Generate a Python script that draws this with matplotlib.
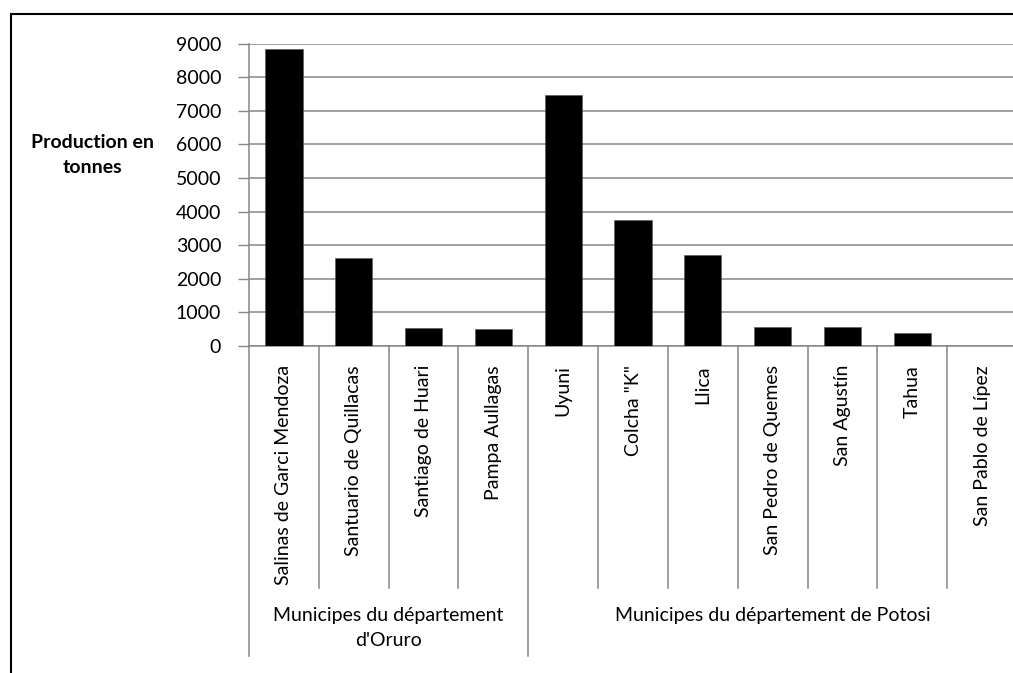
import matplotlib.pyplot as plt
from matplotlib.patches import Rectangle

municipes = [
    "Salinas de Garci Mendoza",
    "Santuario de Quillacas",
    "Santiago de Huari",
    "Pampa Aullagas",
    "Uyuni",
    'Colcha "K"',
    "Llica",
    "San Pedro de Quemes",
    "San Agustín",
    "Tahua",
    "San Pablo de Lípez",
]
production = [8840, 2630, 530, 500, 7470, 3740, 2720, 575, 560, 380, 0]
groups = ["Municipes du département\nd'Oruro", "Municipes du département de Potosi"]
group_sizes = [4, 7]

plt.rcParams["font.family"] = ["Lato", "DejaVu Sans"]
GRID = "#868686"
FS = 14

W, H = 1013, 673
fig = plt.figure(figsize=(W / 100, H / 100), dpi=100)
# plot area runs a little past the right edge, as in the reference crop
ax = fig.add_axes([249 / W, (H - 346) / H, (1017 - 249) / W, (346 - 43.7) / H])

x = range(len(municipes))
ax.bar(x, production, width=0.534, color="black", edgecolor="#555555", linewidth=0.4, zorder=3)

ax.set_xlim(-0.5, len(municipes) - 0.5)
ax.set_ylim(0, 9000)
ax.set_yticks(range(0, 9001, 1000))
ax.tick_params(axis="y", labelsize=FS, length=8, width=1, color=GRID, pad=12)
ax.set_xticks([])
ax.grid(axis="y", color=GRID, linewidth=1.1, zorder=0)
for side in ["top", "right"]:
    ax.spines[side].set_visible(False)
ax.spines["left"].set_color(GRID)
ax.spines["bottom"].set_color(GRID)
ax.spines["left"].set_linewidth(1.1)
ax.spines["bottom"].set_linewidth(1.1)

ax_h = 346 - 43.7
trans = ax.get_xaxis_transform()

# category labels and separators
for i, name in enumerate(municipes):
    ax.text(i, -19 / ax_h, name, rotation=90, ha="center", va="top",
            fontsize=FS, transform=trans)

bounds = [0]
for s in group_sizes:
    bounds.append(bounds[-1] + s)
for k in range(len(municipes) + 1):
    outer = k in bounds
    y1 = -310 / ax_h if outer else -242 / ax_h
    ax.plot([k - 0.5, k - 0.5], [0, y1], color=GRID, linewidth=1.1,
            transform=trans, clip_on=False)

for g, label in enumerate(groups):
    center = (bounds[g] + bounds[g + 1]) / 2 - 0.5
    ax.text(center, -(607 - 346) / ax_h, label, ha="center", va="top",
            fontsize=FS, transform=trans, linespacing=1.55)

fig.text(92 / W, 1 - 155 / H, "Production en\ntonnes", ha="center", va="center",
         fontsize=FS, fontweight="bold", linespacing=1.55)

# chart border (cropped at right and bottom)
fig.patches.append(Rectangle((11 / W, -0.1), 1.2, (H - 14) / H + 0.1,
                             transform=fig.transFigure, fill=False,
                             edgecolor="black", linewidth=1.5))

fig.savefig("out.png", dpi=100)
